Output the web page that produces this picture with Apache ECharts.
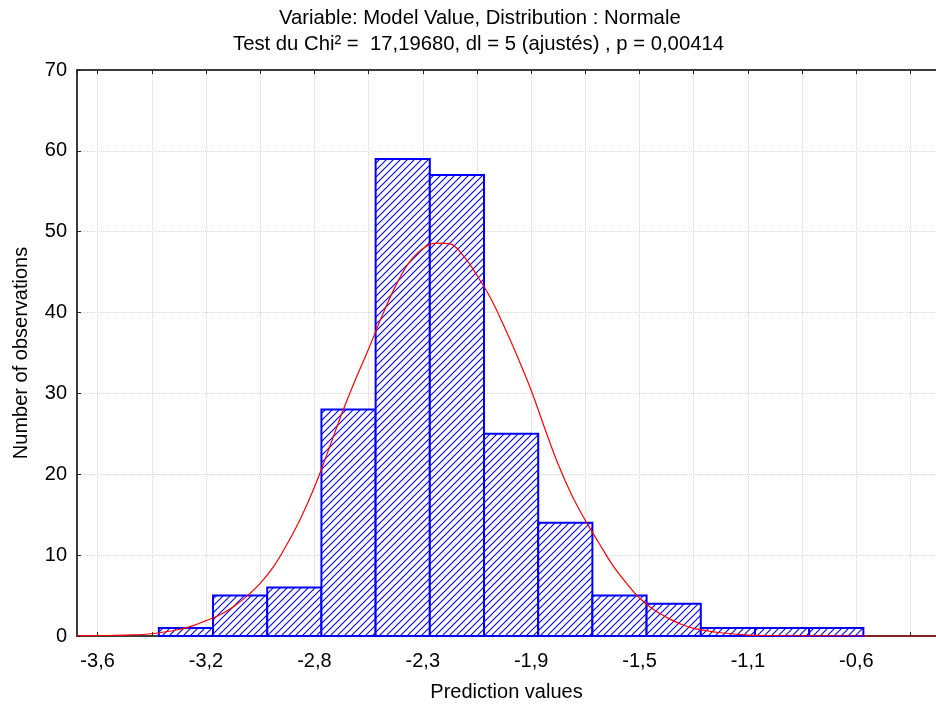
<!DOCTYPE html>
<html>
<head>
<meta charset="utf-8">
<script src="https://cdn.jsdelivr.net/npm/echarts@6/dist/echarts.min.js"></script>
<style>
html, body {margin:0; padding:0; background:#fff;}
#chart {width:936px; height:708px;}
</style>
</head>
<body>
<div id="chart"></div>
<script>
// x is counted in tick steps: tick 0 is -3,6, one unit per tick mark
var xTickLabels = ['-3,6', '', '-3,2', '', '-2,8', '', '-2,3', '', '-1,9', '', '-1,5', '', '-1,1', '', '-0,6', ''];
var binStart = 1.13;
var binCounts = [1, 5, 6, 28, 59, 57, 25, 14, 5, 4, 1, 1, 1];

// fitted normal curve
var curveX = [-0.38, 0, 0.5, 1, 1.5, 1.75, 2, 2.25, 2.5, 2.75, 3, 3.25, 3.5, 3.75, 4, 4.25, 4.5, 4.75, 5,
              5.25, 5.5, 5.75, 6, 6.25, 6.5, 6.75, 7, 7.25, 7.5, 7.75, 8, 8.25, 8.5, 8.75, 9, 9.25, 9.5,
              9.75, 10, 10.25, 10.5, 10.75, 11, 11.5, 12, 12.5, 13, 14, 15.47];
var curveY = [0.02, 0.05, 0.12, 0.28, 0.8, 1.25, 1.9, 2.6, 3.6, 4.9, 6.5, 8.6, 11.4, 14.6, 18.4, 22.8, 27.4,
              31.6, 35.5, 39.6, 43.3, 46.2, 47.9, 48.6, 48.5, 47.0, 44.6, 41.8, 38.3, 34.5, 30.4, 25.7, 21.2,
              17.4, 14.3, 11.5, 8.8, 6.6, 4.7, 3.3, 2.3, 1.5, 0.95, 0.4, 0.12, 0.05, 0.02, 0, 0];

var FONT = '"Liberation Sans", Arial, sans-serif';

// hatch fill
var hatch = document.createElement('canvas');
hatch.width = 7; hatch.height = 7;
var g = hatch.getContext('2d');
g.fillStyle = '#ffffff'; g.fillRect(0, 0, 7, 7);
g.strokeStyle = '#0000ff'; g.lineWidth = 1.1;
g.beginPath();
g.moveTo(0, 7); g.lineTo(7, 0);
g.moveTo(-1, 1); g.lineTo(1, -1);
g.moveTo(6, 8); g.lineTo(8, 6);
g.stroke();

var bins = [];
for (var i = 0; i < binCounts.length; i++) {
  bins.push([binStart + i, binStart + i + 1, binCounts[i]]);
}
var curve = [];
for (var j = 0; j < curveX.length; j++) {
  curve.push([curveX[j], curveY[j]]);
}

function renderBin(params, api) {
  var p0 = api.coord([api.value(0), api.value(2)]);
  var p1 = api.coord([api.value(1), 0]);
  return {
    type: 'rect',
    shape: {x: p0[0], y: p0[1], width: p1[0] - p0[0], height: p1[1] - p0[1]},
    style: {fill: {image: hatch, repeat: 'repeat'}, stroke: '#0000ff', lineWidth: 2}
  };
}

function xLabel(v) {
  var r = Math.round(v);
  if (Math.abs(v - r) > 1e-6) return '';
  return xTickLabels[r] || '';
}

var chart = echarts.init(document.getElementById('chart'));
var option = {
  animation: false,
  textStyle: {fontFamily: FONT},
  title: [{
    text: 'Variable: Model Value, Distribution : Normale',
    left: 279, top: 8, padding: 0,
    textStyle: {fontSize: 20.3, fontWeight: 'normal', color: '#000', fontFamily: FONT}
  }, {
    text: 'Test du Chi² =  17,19680, dl = 5 (ajustés) , p = 0,00414',
    left: 233, top: 34, padding: 0,
    textStyle: {fontSize: 20.3, fontWeight: 'normal', color: '#000', fontFamily: FONT}
  }],
  grid: {left: 77, right: 0, top: 70, bottom: 72, containLabel: false},
  xAxis: [{
    type: 'value',
    position: 'bottom',
    min: -0.38, max: 15.47, splitNumber: 15,
    name: 'Prediction values', nameLocation: 'middle', nameGap: 46,
    nameTextStyle: {fontSize: 20, color: '#000', fontFamily: FONT},
    axisLine: {show: true, onZero: false, lineStyle: {color: '#3c3c3c', width: 2}},
    axisTick: {show: true, inside: true, length: 4, lineStyle: {color: '#222'}},
    axisLabel: {formatter: xLabel, fontSize: 20, color: '#000', margin: 15, fontFamily: FONT,
                showMinLabel: false, showMaxLabel: false},
    splitLine: {show: true, lineStyle: {type: 'dotted', color: '#d6d6d6', width: 1}}
  }, {
    type: 'value',
    position: 'top',
    min: -0.38, max: 15.47, splitNumber: 15,
    axisLine: {show: true, onZero: false, lineStyle: {color: '#3c3c3c', width: 2}},
    axisTick: {show: true, inside: true, length: 4, lineStyle: {color: '#222'}},
    axisLabel: {show: false},
    splitLine: {show: false}
  }],
  yAxis: {
    type: 'value',
    min: 0, max: 70, interval: 10,
    name: 'Number of observations', nameLocation: 'middle', nameGap: 46,
    nameTextStyle: {fontSize: 20, color: '#000', fontFamily: FONT},
    axisLine: {show: true, onZero: false, lineStyle: {color: '#3c3c3c', width: 2}},
    axisTick: {show: true, inside: true, length: 4, lineStyle: {color: '#222'}},
    axisLabel: {fontSize: 20, color: '#000', margin: 10, fontFamily: FONT},
    splitLine: {show: true, lineStyle: {type: 'dotted', color: '#d6d6d6', width: 1}}
  },
  series: [{
    name: 'bins',
    type: 'custom',
    renderItem: renderBin,
    encode: {x: [0, 1], y: 2},
    data: bins,
    z: 2
  }, {
    name: 'Normale',
    type: 'line',
    data: curve,
    smooth: 0.4,
    showSymbol: false,
    lineStyle: {color: '#ff0000', width: 1.2},
    z: 3
  }]
};
chart.setOption(option);
</script>
</body>
</html>
